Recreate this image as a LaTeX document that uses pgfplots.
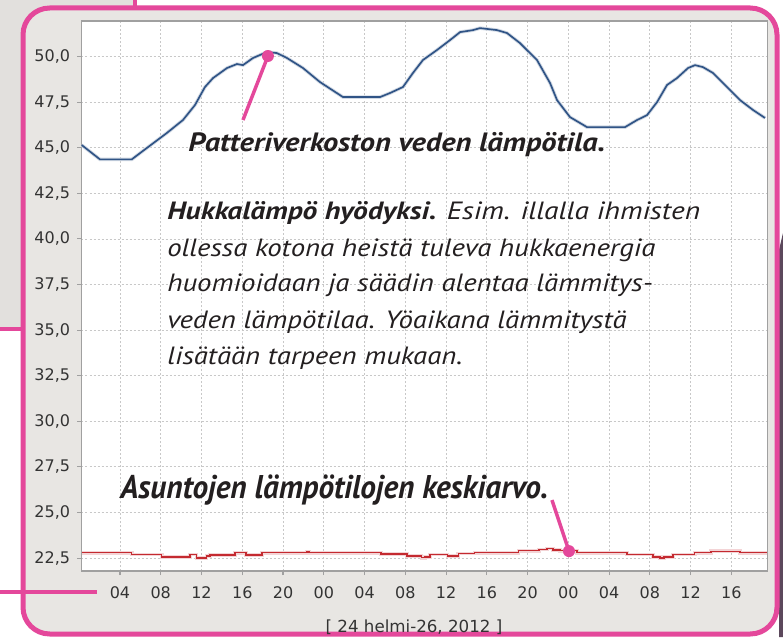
\documentclass[border=0pt]{standalone}
\usepackage{fontspec}
\setmainfont{PT Sans}
\newfontfamily\tickfont{DejaVu Sans}
\usepackage{graphicx}
\usepackage{pgfplots}
\usepackage{pgfplotstable}
\pgfplotsset{compat=1.18}
\definecolor{pinkc}{RGB}{228,72,155}
\definecolor{bgin}{RGB}{232,230,227}
\definecolor{bgout}{RGB}{226,224,221}
\definecolor{bluec}{RGB}{48,84,134}
\definecolor{redc}{RGB}{196,42,48}
\definecolor{gridc}{RGB}{200,200,200}
\definecolor{axisc}{RGB}{160,160,160}
\definecolor{txtc}{RGB}{35,31,32}
\definecolor{darkp}{RGB}{92,72,92}

\newsavebox\patbox
\newsavebox\asubox
\newsavebox\hukA
\newsavebox\hukB
\newsavebox\hukC
\newsavebox\hukD
\newsavebox\hukE
\newsavebox\capb
\newcommand\patfont{\bfseries\itshape\fontsize{20}{20}\selectfont}
\newcommand\hukfont{\itshape\fontsize{20}{20}\selectfont}

\pgfplotstableread{
h v
0.24 45.15
2.04 44.36
5.15 44.36
6.62 44.98
8.58 45.80
10.18 46.52
11.36 47.34
12.34 48.33
13.13 48.82
14.50 49.37
15.48 49.59
16.07 49.53
17.05 49.92
18.43 50.25
19.41 50.19
20.39 49.92
21.96 49.37
23.63 48.60
25.88 47.78
29.52 47.78
30.50 48.00
31.77 48.33
32.75 49.10
33.73 49.81
35.11 50.36
36.38 50.90
37.37 51.34
38.64 51.45
39.33 51.56
41.00 51.45
41.98 51.29
43.25 50.74
44.92 49.81
46.20 48.55
46.89 47.61
48.16 46.68
49.83 46.13
53.56 46.13
54.74 46.52
55.72 46.79
56.70 47.50
57.68 48.44
58.66 48.82
59.74 49.37
60.43 49.53
61.21 49.42
62.19 49.10
63.57 48.33
64.85 47.61
66.12 47.07
67.30 46.63
}\bluedata

\pgfplotstableread{
h v
0.24 22.79
5.15 22.70
8.09 22.57
10.87 22.70
11.50 22.50
12.50 22.60
12.83 22.67
15.29 22.79
16.37 22.67
17.94 22.79
22.35 22.86
22.55 22.79
29.60 22.72
32.17 22.60
33.60 22.52
33.90 22.57
34.42 22.70
36.14 22.62
37.20 22.75
38.80 22.79
43.10 22.90
45.10 22.97
45.90 23.03
46.50 22.95
47.20 22.90
48.85 22.79
53.76 22.70
56.31 22.57
57.00 22.50
57.40 22.57
58.27 22.70
60.40 22.79
62.00 22.87
64.84 22.79
67.50 22.79
}\reddata

\begin{document}%
\sbox\patbox{\color{txtc}\patfont Patteriverkoston veden lämpötila.}%
\sbox\capb{\patfont H}%
\pgfmathsetmacro\psx{312.75pt/\the\wd\patbox}%
\pgfmathsetmacro\psy{13.9pt/\the\ht\capb}%
\sbox\asubox{\color{txtc}\patfont Asuntojen lämpötilojen keskiarvo.}%
\pgfmathsetmacro\asx{321pt/\the\wd\asubox}%
\pgfmathsetmacro\asy{17.25pt/\the\ht\capb}%
\sbox\hukA{\color{txtc}\hukfont\textbf{Hukkalämpö hyödyksi.} Esim. illalla ihmisten}%
\sbox\hukB{\color{txtc}\hukfont ollessa kotona heistä tuleva hukkaenergia}%
\sbox\hukC{\color{txtc}\hukfont huomioidaan ja säädin alentaa lämmitys-}%
\sbox\hukD{\color{txtc}\hukfont veden lämpötilaa. Yöaikana lämmitystä}%
\sbox\hukE{\color{txtc}\hukfont lisätään tarpeen mukaan.}%
\sbox\capb{\hukfont H}%
\pgfmathsetmacro\hsx{366pt/\the\wd\hukB}%
\pgfmathsetmacro\hax{399.75pt/\the\wd\hukA}%
\pgfmathsetmacro\hsy{13.1pt/\the\ht\capb}%
\begin{tikzpicture}
\useasboundingbox (0,0) rectangle (587.25pt,477.75pt);
\begin{scope}[x=0.75pt,y=0.75pt]
\fill[white] (0,0) rectangle (783,637);
\fill[bgout] (0,308) rectangle (135,637);
\fill[darkp] (779,387) -- (783,404) -- (783,0) -- (779,0) -- cycle;
\draw[pinkc, line width=3pt] (135,637) -- (135,628);
\draw[pinkc, line width=3pt] (0,308) -- (24,308);
\draw[pinkc, line width=3.75pt, fill=bgin, rounded corners=20pt] (23,3) rectangle (777,629);
\draw[pinkc, line width=3pt] (0,45) -- (97,45);
\end{scope}
\begin{axis}[
  at={(61.125pt,49.5pt)}, anchor=south west,
  scale only axis, width=514.5pt, height=412.5pt,
  xmin=0.225, xmax=67.54, ymin=21.79, ymax=51.95,
  axis background/.style={fill=white},
  axis line style={axisc, line width=1.2pt},
  tick style={axisc, line width=0.8pt},
  tick align=outside, major tick length=3pt,
  xtick pos=bottom, ytick pos=left,
  xtick={4,8,...,64},
  xticklabels={04,08,12,16,20,00,04,08,12,16,20,00,04,08,12,16},
  ytick={22.5,25,27.5,30,32.5,35,37.5,40,42.5,45,47.5,50},
  /pgf/number format/assume math mode=true,
  /pgf/number format/use comma,
  /pgf/number format/fixed,
  /pgf/number format/fixed zerofill,
  /pgf/number format/precision=1,
  grid=major,
  major grid style={gridc, dash pattern=on 1.5pt off 1.5pt, line width=0.6pt},
  tick label style={font=\tickfont\fontsize{12}{12}\selectfont, text=black!80},
  xticklabel style={yshift=-5pt},
  yticklabel style={xshift=-2pt},
]
\addplot[bluec!22, line width=2.6pt, forget plot] table[x=h,y=v] {\bluedata};
\addplot[bluec, line width=1.25pt] table[x=h,y=v] {\bluedata};
\addplot[redc!20, line width=2.8pt, const plot mark left, forget plot] table[x=h,y=v] {\reddata};
\addplot[redc, line width=1.1pt, const plot mark left] table[x=h,y=v] {\reddata};
\draw[pinkc, line width=2.6pt] (axis cs:16.07,46.52) -- (axis cs:18.52,50.03);
\fill[pinkc] (axis cs:18.52,50.03) circle[radius=4.5pt];
\draw[pinkc, line width=2.6pt] (axis cs:46.39,25.68) -- (axis cs:48.06,22.88);
\fill[pinkc] (axis cs:48.06,22.88) circle[radius=4.5pt];
\end{axis}
\begin{scope}[x=0.75pt,y=0.75pt, every node/.style={anchor=base west, inner sep=0}]
\node at (188,485) {\scalebox{\psx}[\psy]{\usebox\patbox}};
\node at (120,139) {\scalebox{\asx}[\asy]{\usebox\asubox}};
\node at (167,417) {\scalebox{\hax}[\hsy]{\usebox\hukA}};
\node at (167,381) {\scalebox{\hsx}[\hsy]{\usebox\hukB}};
\node at (167,345) {\scalebox{\hsx}[\hsy]{\usebox\hukC}};
\node at (167,309) {\scalebox{\hsx}[\hsy]{\usebox\hukD}};
\node at (167,273) {\scalebox{\hsx}[\hsy]{\usebox\hukE}};
\node[anchor=base, text=black!80, font=\tickfont\fontsize{12.5}{12.5}\selectfont] at (414,5) {[ 24 helmi-26, 2012 ]};
\end{scope}
\end{tikzpicture}%
\end{document}
